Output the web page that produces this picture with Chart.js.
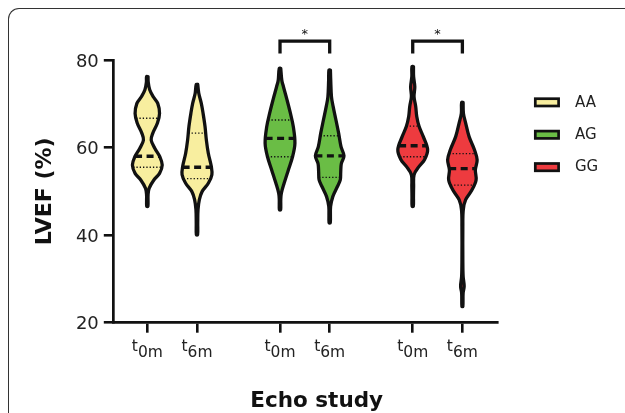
<!DOCTYPE html>
<html><head><meta charset="utf-8">
<script src="https://cdn.jsdelivr.net/npm/chart.js@4.4.1/dist/chart.umd.min.js"></script>
<style>
html,body{margin:0;padding:0;background:#fff;overflow:hidden;}
#wrap{position:relative;width:625px;height:413px;overflow:hidden;background:#fff;}
#frame{position:absolute;left:8px;top:8px;width:700px;height:470px;border-top:1.6px solid #333;border-left:1.6px solid #333;border-top-left-radius:11px;box-sizing:border-box;}
canvas{position:absolute;left:0;top:0;}
</style></head><body>
<div id="wrap"><div id="frame"></div><canvas id="c" width="625" height="413"></canvas></div>
<script>
// ---- data ----
const groups = ['AA', 'AG', 'GG'];
const timepoints = ['0m', '6m'];
const groupColors = ['#f8ee9f', '#6abd45', '#ee3b3f'];

// violin profiles: LVEF level (%) and relative density (max = 1)
const AA_t0m_lvef    = [76.2, 75.0, 73.2, 71.6, 70.1, 67.8, 65.6, 63.3, 61.7, 59.8, 57.9, 56.0, 54.1, 52.6, 50.7, 49.2, 46.6];
const AA_t0m_density = [0.05, 0.06, 0.16, 0.40, 0.70, 0.82, 0.68, 0.37, 0.26, 0.51, 0.84, 1.00, 0.82, 0.44, 0.12, 0.05, 0.04];
const AA_t6m_lvef    = [74.4, 72.4, 70.1, 67.8, 64.8, 61.7, 58.7, 55.7, 53.8, 51.9, 50.0, 48.1, 45.8, 42.7, 40.1];
const AA_t6m_density = [0.05, 0.12, 0.29, 0.41, 0.54, 0.63, 0.76, 0.96, 1.00, 0.77, 0.35, 0.16, 0.07, 0.05, 0.04];
const AG_t0m_lvef    = [78.1, 75.4, 73.9, 70.9, 67.8, 64.8, 61.0, 57.9, 54.9, 51.9, 49.6, 48.1, 45.8];
const AG_t0m_density = [0.05, 0.12, 0.23, 0.47, 0.70, 0.89, 1.00, 0.84, 0.56, 0.28, 0.09, 0.05, 0.04];
const AG_t6m_lvef    = [77.7, 75.4, 71.6, 69.4, 66.3, 63.3, 60.2, 58.1, 56.3, 54.4, 52.6, 51.1, 48.8, 46.5, 42.8];
const AG_t6m_density = [0.05, 0.07, 0.12, 0.23, 0.42, 0.60, 0.76, 0.96, 0.78, 0.74, 0.71, 0.52, 0.21, 0.06, 0.04];
const GG_t0m_lvef    = [78.5, 76.2, 73.9, 71.6, 69.4, 67.1, 64.8, 62.5, 59.5, 57.2, 55.7, 53.8, 51.1, 48.8, 46.6];
const GG_t0m_density = [0.05, 0.06, 0.14, 0.09, 0.20, 0.27, 0.43, 0.71, 1.00, 0.79, 0.43, 0.09, 0.06, 0.05, 0.04];
const GG_t6m_lvef    = [70.3, 67.8, 65.6, 62.5, 59.5, 57.2, 54.9, 52.6, 50.3, 48.1, 45.8, 42.0, 34.4, 30.6, 28.3, 26.8, 23.7];
const GG_t6m_density = [0.05, 0.07, 0.22, 0.45, 0.81, 0.99, 0.87, 0.92, 0.64, 0.22, 0.06, 0.03, 0.03, 0.05, 0.12, 0.05, 0.03];

// quartiles: [Q1, median, Q3]
const AA_t0m_quartiles = [55.5, 58.0, 66.7];
const AA_t6m_quartiles = [52.9, 55.5, 63.3];
const AG_t0m_quartiles = [57.9, 62.1, 66.3];
const AG_t6m_quartiles = [53.2, 58.1, 62.7];
const GG_t0m_quartiles = [57.9, 60.4, 64.9];
const GG_t6m_quartiles = [51.4, 55.2, 58.6];

// significance (t0m vs t6m within group)
const significantGroups = ['AG', 'GG'];
const bracketLevel = 84.3;
const bracketLegLevel = 81.5;
const starLevel = 86.8;

const yTickValues = [20, 40, 60, 80];

// ---- layout helpers ----
const HALF = 0.30;         // max half-width of a violin, x units
const GROUP_STEP = 2.672;  // distance between group starts, x units
function xCenter(gi, ti) { return gi * GROUP_STEP + ti; }

const violins = [
  {g:0, t:0, lvef:AA_t0m_lvef, dens:AA_t0m_density, q:AA_t0m_quartiles},
  {g:0, t:1, lvef:AA_t6m_lvef, dens:AA_t6m_density, q:AA_t6m_quartiles},
  {g:1, t:0, lvef:AG_t0m_lvef, dens:AG_t0m_density, q:AG_t0m_quartiles},
  {g:1, t:1, lvef:AG_t6m_lvef, dens:AG_t6m_density, q:AG_t6m_quartiles},
  {g:2, t:0, lvef:GG_t0m_lvef, dens:GG_t0m_density, q:GG_t0m_quartiles},
  {g:2, t:1, lvef:GG_t6m_lvef, dens:GG_t6m_density, q:GG_t6m_quartiles},
];

function densAt(lvef, dens, v) {
  for (let k = 0; k < lvef.length - 1; k++) {
    const a = lvef[k], b = lvef[k + 1];
    if (v <= a && v >= b) {
      const t = (a - v) / (a - b);
      return dens[k] + (dens[k + 1] - dens[k]) * t;
    }
  }
  return 0;
}

const INK = '#111';
const datasets = [];
violins.forEach(vi => {
  const c = xCenter(vi.g, vi.t);
  const right = vi.lvef.map((v, k) => ({x: c + vi.dens[k] * HALF, y: v}));
  const left = vi.lvef.map((v, k) => ({x: c - vi.dens[k] * HALF, y: v})).reverse();
  datasets.push({
    data: right.concat(left, [right[0]]),
    borderColor: INK, borderWidth: 3.3,
    backgroundColor: groupColors[vi.g],
    fill: 'shape', tension: 0.35, pointRadius: 0,
    borderJoinStyle: 'round', borderCapStyle: 'round',
    order: 3
  });
  vi.q.forEach((q, qi) => {
    const w = densAt(vi.lvef, vi.dens, q) * HALF;
    const med = qi === 1;
    datasets.push({
      data: [{x: c - w, y: q}, {x: c + w, y: q}],
      borderColor: INK,
      borderWidth: med ? 3.4 : 1.3,
      borderDash: med ? [7, 4.5] : [1.3, 2],
      borderCapStyle: 'butt',
      fill: false, tension: 0, pointRadius: 0, order: 1
    });
  });
});
significantGroups.forEach(g => {
  const gi = groups.indexOf(g);
  const c0 = xCenter(gi, 0), c1 = xCenter(gi, 1);
  datasets.push({
    data: [{x: c0, y: bracketLegLevel}, {x: c0, y: bracketLevel}, {x: c1, y: bracketLevel}, {x: c1, y: bracketLegLevel}],
    borderColor: INK, borderWidth: 3.3, borderJoinStyle: 'miter', borderCapStyle: 'butt',
    fill: false, tension: 0, pointRadius: 0, clip: false, order: 1
  });
});

const tickPositions = [];
groups.forEach((g, gi) => timepoints.forEach((tp, ti) => tickPositions.push(xCenter(gi, ti))));

const overlay = {
  id: 'overlay',
  afterDraw(chart) {
    const ctx = chart.ctx, xs = chart.scales.x, ys = chart.scales.y;
    ctx.save();
    // x tick labels t with subscript
    ctx.fillStyle = '#222';
    ctx.textAlign = 'left';
    ctx.textBaseline = 'alphabetic';
    ctx.font = '15.5px "DejaVu Sans"';
    groups.forEach((g, gi) => timepoints.forEach((tp, ti) => {
      const px = xs.getPixelForValue(xCenter(gi, ti));
      const wt = ctx.measureText('t').width, ws = ctx.measureText(tp).width;
      const x0 = px - (wt + ws) / 2;
      ctx.fillText('t', x0, 351);
      ctx.fillText(tp, x0 + wt, 357);
    }));
    // x title
    ctx.font = 'bold 21.5px "DejaVu Sans"';
    ctx.textAlign = 'center';
    ctx.fillStyle = INK;
    ctx.fillText('Echo study', 316.7, 407.3);
    // stars
    ctx.font = '13px "DejaVu Sans"';
    significantGroups.forEach(g => {
      const gi = groups.indexOf(g);
      const px = (xs.getPixelForValue(xCenter(gi, 0)) + xs.getPixelForValue(xCenter(gi, 1))) / 2;
      const py = ys.getPixelForValue(starLevel);
      ctx.fillText('*', px, py + 7.7);
    });
    // legend
    ctx.textAlign = 'left';
    ctx.textBaseline = 'middle';
    ctx.font = '15px "DejaVu Sans"';
    groups.forEach((g, i) => {
      const cy = 102.3 + i * 32.4;
      ctx.fillStyle = groupColors[i];
      ctx.fillRect(535.3, cy - 3.6, 23.3, 7.3);
      ctx.lineWidth = 2.7;
      ctx.strokeStyle = INK;
      ctx.strokeRect(535.3, cy - 3.6, 23.3, 7.3);
      ctx.fillStyle = '#222';
      ctx.fillText(g, 575, cy + 0.5);
    });
    ctx.restore();
  }
};

Chart.defaults.font.family = '"DejaVu Sans"';
new Chart(document.getElementById('c'), {
  type: 'line',
  data: {datasets},
  options: {
    responsive: false,
    devicePixelRatio: 1,
    animation: false,
    events: [],
    layout: {padding: {left: 0, top: 60, right: 127.7, bottom: 0}},
    plugins: {legend: {display: false}, tooltip: {enabled: false}},
    scales: {
      x: {
        type: 'linear', min: -0.685, max: 7.047,
        afterBuildTicks: s => { s.ticks = tickPositions.map(v => ({value: v})); },
        ticks: {display: false, autoSkip: false},
        grid: {drawOnChartArea: false, drawTicks: true, tickLength: 10, lineWidth: 2.6, color: INK},
        border: {display: true, width: 2.7, color: INK},
        afterFit: s => { s.height = 90.3; }
      },
      y: {
        type: 'linear', min: 20, max: 80,
        afterBuildTicks: s => { s.ticks = yTickValues.map(v => ({value: v})); },
        ticks: {font: {size: 18}, color: '#222', padding: 5, labelOffset: 2},
        grid: {drawOnChartArea: false, drawTicks: true, tickLength: 9.5, lineWidth: 2.6, color: INK},
        border: {display: true, width: 2.7, color: INK},
        title: {display: true, text: 'LVEF (%)', font: {size: 22, weight: 'bold'}, color: INK, padding: {top: 31.8, bottom: 0}},
        afterFit: s => { s.width = 113.3; }
      }
    }
  },
  plugins: [overlay]
});
</script>
</body></html>
